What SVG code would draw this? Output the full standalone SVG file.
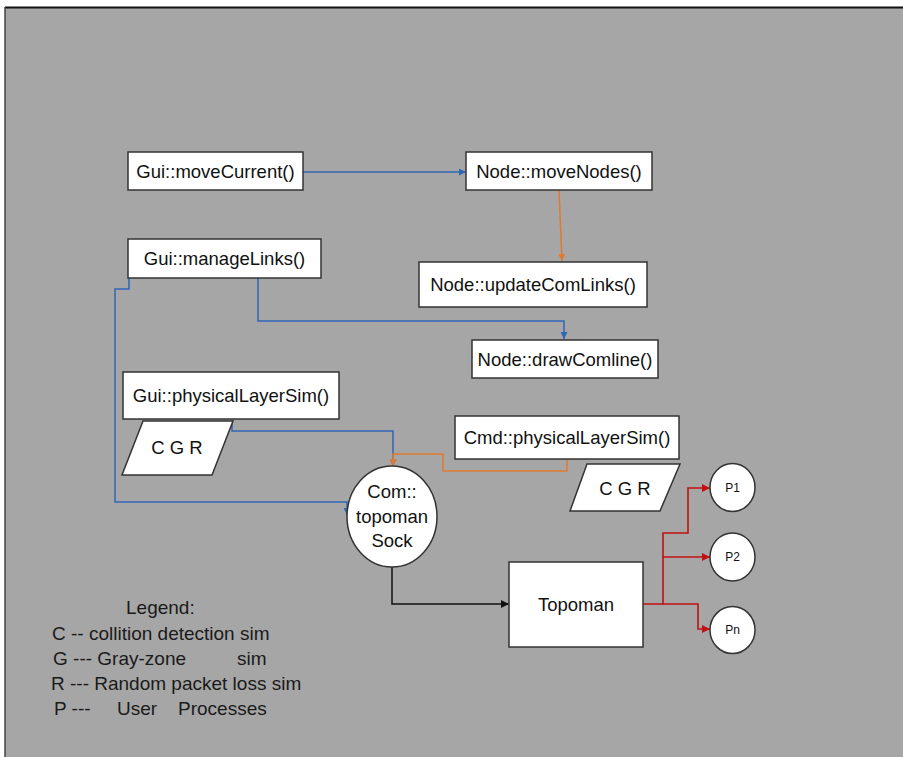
<svg xmlns="http://www.w3.org/2000/svg" width="903" height="757" viewBox="0 0 903 757">
  <style>
    .box { fill: #ffffff; stroke: #333333; stroke-width: 1.5; }
    .lbl { font-family: "Liberation Sans", Arial, sans-serif; font-size: 18.5px; fill: #111111; text-anchor: middle; dominant-baseline: central; }
    .small { font-size: 12px; }
    .leg { font-family: "Liberation Sans", Arial, sans-serif; font-size: 19px; fill: #1a1a1a; dominant-baseline: central; }
    .blue { fill: none; stroke: #2f66b5; stroke-width: 1.5; }
    .orange { fill: none; stroke: #e07a2e; stroke-width: 1.5; }
    .black { fill: none; stroke: #111111; stroke-width: 1.5; }
    .red { fill: none; stroke: #c41010; stroke-width: 1.6; }
  </style>
  <defs>
    <marker id="ah-blue" viewBox="0 0 10 10" refX="10" refY="5" markerWidth="7" markerHeight="7" markerUnits="userSpaceOnUse" orient="auto">
      <path d="M0,0 L10,5 L0,10 z" fill="#2f66b5"/>
    </marker>
    <marker id="ah-orange" viewBox="0 0 10 10" refX="10" refY="5" markerWidth="7" markerHeight="7" markerUnits="userSpaceOnUse" orient="auto">
      <path d="M0,0 L10,5 L0,10 z" fill="#e07a2e"/>
    </marker>
    <marker id="ah-black" viewBox="0 0 10 10" refX="10" refY="5" markerWidth="8" markerHeight="8" markerUnits="userSpaceOnUse" orient="auto">
      <path d="M0,0 L10,5 L0,10 z" fill="#111111"/>
    </marker>
    <marker id="ah-red" viewBox="0 0 10 10" refX="10" refY="5" markerWidth="8" markerHeight="8" markerUnits="userSpaceOnUse" orient="auto">
      <path d="M0,0 L10,5 L0,10 z" fill="#c41010"/>
    </marker>
  </defs>

  <!-- page -->
  <rect x="0" y="0" width="903" height="757" fill="#ffffff"/>
  <rect x="5" y="7" width="898" height="750" fill="#a6a6a6"/>
  <line x1="5" y1="7.5" x2="903" y2="7.5" stroke="#111111" stroke-width="2"/>
  <line x1="5" y1="7" x2="5" y2="757" stroke="#444444" stroke-width="1.5"/>

  <!-- connectors -->
  <g id="connectors">
    <path class="blue" d="M303,172 H466" marker-end="url(#ah-blue)"/>
    <path class="orange" d="M559,190 L562,261" marker-end="url(#ah-orange)"/>
    <path class="blue" d="M258,278 V321 H564 V339" marker-end="url(#ah-blue)"/>
    <path class="blue" d="M129,262 V289 H115 V502 H347 V515" marker-end="url(#ah-blue)"/>
    <path class="blue" d="M232,420 V431 H393 V466" marker-end="url(#ah-blue)"/>
    <path class="orange" d="M567,459 V471 H443 V454 H393 V466" marker-end="url(#ah-orange)"/>
    <path class="black" d="M392,567 V604 H509" marker-end="url(#ah-black)"/>
    <path class="red" d="M643,604 H663 V533 H688 V488 H710" marker-end="url(#ah-red)"/>
    <path class="red" d="M663,557 H710" marker-end="url(#ah-red)"/>
    <path class="red" d="M663,604 H698 V629 H710" marker-end="url(#ah-red)"/>
  </g>

  <g id="gui-movecurrent">
    <rect class="box" x="128" y="152" width="175" height="38"/>
    <text class="lbl" x="215.5" y="171">Gui::moveCurrent()</text>
  </g>
  <g id="node-movenodes">
    <rect class="box" x="466" y="152" width="186" height="38"/>
    <text class="lbl" x="559" y="171">Node::moveNodes()</text>
  </g>
  <g id="gui-managelinks">
    <rect class="box" x="128" y="239" width="193" height="39"/>
    <text class="lbl" x="224.5" y="258.5">Gui::manageLinks()</text>
  </g>
  <g id="node-updatecomlinks">
    <rect class="box" x="419" y="262" width="228" height="45"/>
    <text class="lbl" x="533" y="284.5">Node::updateComLinks()</text>
  </g>
  <g id="node-drawcomline">
    <rect class="box" x="472" y="340" width="186" height="38"/>
    <text class="lbl" x="565" y="359">Node::drawComline()</text>
  </g>
  <g id="gui-physicallayersim">
    <rect class="box" x="123" y="372" width="216" height="47"/>
    <text class="lbl" x="231" y="395.5">Gui::physicalLayerSim()</text>
  </g>
  <g id="gui-cgr">
    <polygon class="box" points="143,421 233,421 212,475 122,475"/>
    <text class="lbl" x="177" y="447">C G R</text>
  </g>
  <g id="cmd-physicallayersim">
    <rect class="box" x="455" y="416" width="224" height="43"/>
    <text class="lbl" x="567" y="437.5">Cmd::physicalLayerSim()</text>
  </g>
  <g id="cmd-cgr">
    <polygon class="box" points="587,464 680,464 660,511 570,511"/>
    <text class="lbl" x="625" y="488">C G R</text>
  </g>
  <g id="com-topomansock">
    <ellipse class="box" cx="392" cy="516.5" rx="45" ry="50.5"/>
    <text class="lbl" x="392" y="491.5">Com::</text>
    <text class="lbl" x="392" y="516">topoman</text>
    <text class="lbl" x="392" y="540.5">Sock</text>
  </g>
  <g id="topoman">
    <rect class="box" x="509" y="562" width="134" height="85"/>
    <text class="lbl" x="576" y="604">Topoman</text>
  </g>
  <g id="p1">
    <ellipse class="box" cx="732.5" cy="487.5" rx="22.5" ry="24"/>
    <text class="lbl small" x="732.5" y="487.5">P1</text>
  </g>
  <g id="p2">
    <ellipse class="box" cx="732.5" cy="557" rx="22.5" ry="24"/>
    <text class="lbl small" x="732.5" y="557">P2</text>
  </g>
  <g id="pn">
    <ellipse class="box" cx="732.5" cy="630" rx="22.5" ry="23.5"/>
    <text class="lbl small" x="732.5" y="630">Pn</text>
  </g>

  <!-- legend -->
  <g id="legend">
    <text class="leg" x="126" y="607">Legend:</text>
    <text class="leg" x="52" y="633">C -- collition detection sim</text>
    <text class="leg" x="53" y="658">G --- Gray-zone<tspan x="237">sim</tspan></text>
    <text class="leg" x="51" y="683">R --- Random packet loss sim</text>
    <text class="leg" x="54" y="708">P ---<tspan x="117">User</tspan><tspan x="178">Processes</tspan></text>
  </g>
</svg>
